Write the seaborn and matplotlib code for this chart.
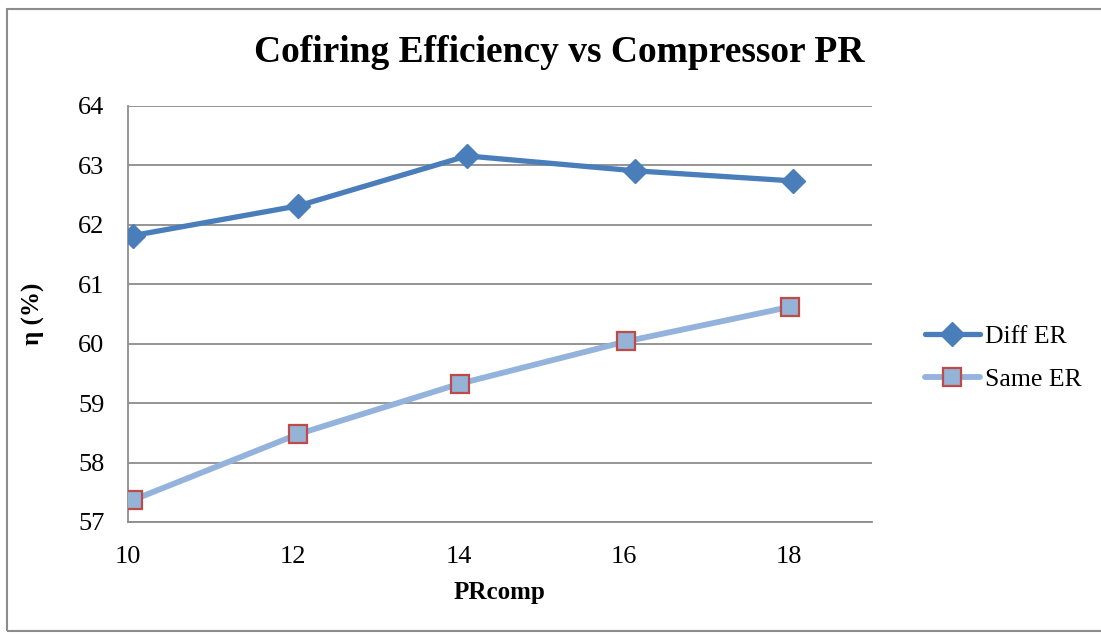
import matplotlib
matplotlib.use("Agg")
import matplotlib.pyplot as plt
import seaborn as sns
import pandas as pd
from matplotlib.patches import Rectangle

# Compressor pressure ratio and cofiring efficiency for the two cases
pr_diff = [10.06, 12.06, 14.10, 16.13, 18.04]
eta_diff = [61.82, 62.32, 63.16, 62.91, 62.74]
pr_same = [10.06, 12.06, 14.02, 16.03, 18.01]
eta_same = [57.37, 58.48, 59.33, 60.04, 60.62]

x_ticks = [10, 12, 14, 16, 18]
y_ticks = [57, 58, 59, 60, 61, 62, 63, 64]

sns.set_theme(style="white")
plt.rcParams["font.family"] = ["Liberation Serif", "DejaVu Serif"]
plt.rcParams["text.color"] = "black"
plt.rcParams["axes.labelcolor"] = "black"

fig = plt.figure(figsize=(11.01, 6.34), dpi=100)
ax = fig.add_axes([128 / 1101, 1 - 522 / 634, (872 - 128) / 1101, (522 - 106) / 634])

# outer chart frame
fig.patches.append(Rectangle((7 / 1101, 3 / 634), 1.2, 622 / 634, transform=fig.transFigure,
                             fill=False, edgecolor="#8c8c8c", linewidth=1.5, zorder=0))

df_diff = pd.DataFrame({"PRcomp": pr_diff, "eta": eta_diff})
df_same = pd.DataFrame({"PRcomp": pr_same, "eta": eta_same})

sns.lineplot(data=df_diff, x="PRcomp", y="eta", ax=ax, color="#4a7ebb", linewidth=3.8,
             marker="D", markersize=12.5, markeredgecolor="#4a7ebb", markerfacecolor="#4a7ebb",
             markeredgewidth=1, label="Diff ER", sort=False, zorder=3)
sns.lineplot(data=df_same, x="PRcomp", y="eta", ax=ax, color="#93b3dd", linewidth=4.2,
             marker="s", markersize=12.5, markeredgecolor="#be4b48", markerfacecolor="#95b3d7",
             markeredgewidth=1.6, label="Same ER", sort=False, zorder=3)

ax.set_xlim(10, 19)
ax.set_ylim(57, 64)
ax.set_xticks(x_ticks)
ax.set_yticks(y_ticks)
ax.tick_params(axis="both", length=0, labelsize=19, colors="black")
ax.tick_params(axis="x", pad=17)
ax.tick_params(axis="y", pad=17)

ax.grid(axis="y", color="#8c8c8c", linewidth=1.3)
ax.grid(axis="x", visible=False)
for side in ["top", "right"]:
    ax.spines[side].set_visible(False)
for side in ["left", "bottom"]:
    ax.spines[side].set_color("#8c8c8c")
    ax.spines[side].set_linewidth(1.3)

ax.set_xlabel("PRcomp", fontsize=18, fontweight="bold", labelpad=10)
ax.set_ylabel("η (%)", fontsize=18, fontweight="bold", labelpad=24)

fig.text(559 / 1101, 1 - 52 / 634, "Cofiring Efficiency vs Compressor PR", ha="center",
         va="center", fontsize=27, fontweight="bold")

leg = ax.legend(loc="center left", bbox_to_anchor=(1.071, 0.394), frameon=False, fontsize=18.5,
                handlelength=2.15, handletextpad=0.2, labelspacing=0.8, borderaxespad=0,
                borderpad=0)

fig.savefig("out.png", dpi=100, facecolor="white")
